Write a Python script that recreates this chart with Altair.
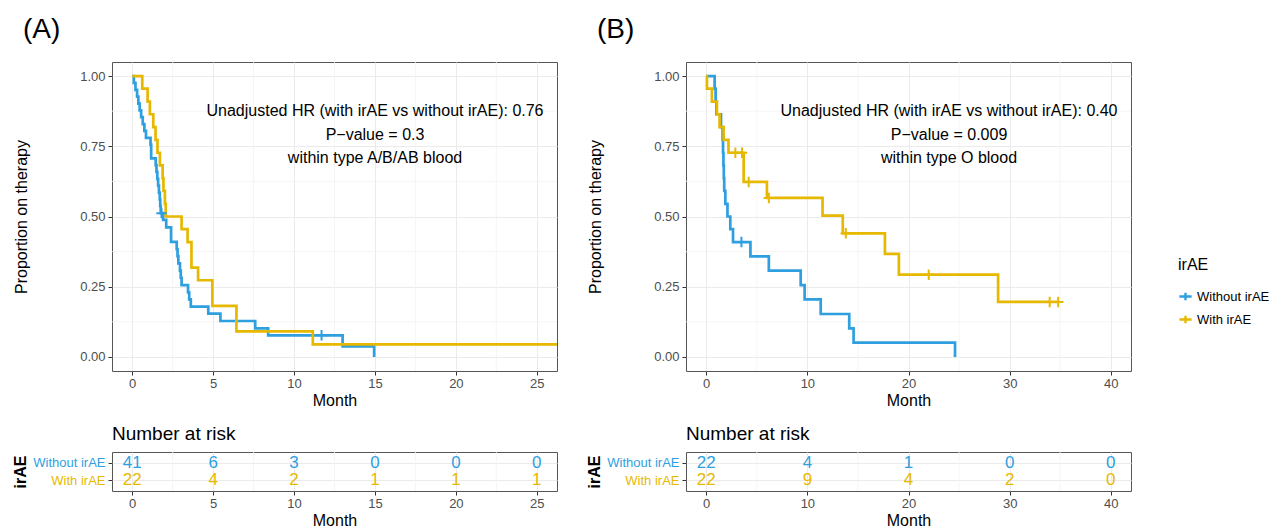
import altair as alt
import pandas as pd

GROUPS = ["Without irAE", "With irAE"]
COLORS = ["#2E9FDF", "#E7B800"]

# ---------------- Panel A (type A/B/AB blood) ----------------
a_wo_time = [0, 0.10, 0.20, 0.30, 0.38, 0.46, 0.55, 0.65, 0.75, 0.85, 1.13, 1.17,
             1.45, 1.50, 1.55, 1.60, 1.65, 1.70, 1.73, 1.76, 1.91, 2.10, 2.40,
             2.75, 2.80, 2.85, 2.95, 3.00, 3.05, 3.45, 3.52, 3.62, 4.70, 5.45,
             7.60, 8.40, 13.00, 14.95]
a_wo_surv = [1.000, 0.976, 0.951, 0.927, 0.902, 0.878, 0.854, 0.829, 0.805, 0.780,
             0.756, 0.707, 0.683, 0.659, 0.634, 0.610, 0.585, 0.561, 0.537, 0.512,
             0.488, 0.461, 0.410, 0.384, 0.359, 0.333, 0.307, 0.282, 0.256, 0.230,
             0.205, 0.179, 0.154, 0.128, 0.102, 0.077, 0.038, 0.000]
a_wo_cens_time = [1.81, 11.7]
a_wo_cens_surv = [0.512, 0.077]

a_w_time = [0, 0.62, 0.95, 1.09, 1.30, 1.44, 1.56, 1.71, 1.88, 1.93, 2.02, 2.07,
            3.05, 3.42, 3.66, 4.07, 4.95, 6.44, 11.16, 27.0]
a_w_surv = [1.000, 0.955, 0.909, 0.864, 0.818, 0.773, 0.727, 0.682, 0.636, 0.591,
            0.545, 0.500, 0.455, 0.409, 0.318, 0.273, 0.182, 0.091, 0.045, 0.045]
a_w_cens_time = []
a_w_cens_surv = []

a_notes = ["Unadjusted HR (with irAE vs without irAE): 0.76",
           "P\u2212value = 0.3",
           "within type A/B/AB blood"]

a_risk_time = [0, 5, 10, 15, 20, 25]
a_risk_wo = [41, 6, 3, 0, 0, 0]
a_risk_w = [22, 4, 2, 1, 1, 1]

# ---------------- Panel B (type O blood) ----------------
b_wo_time = [0, 0.83, 0.93, 1.00, 1.46, 1.62, 1.66, 1.70, 1.74, 1.78, 1.89, 2.10,
             2.38, 2.65, 4.37, 6.19, 9.34, 9.73, 11.32, 14.14, 14.57, 24.6]
b_wo_surv = [1.000, 0.955, 0.909, 0.864, 0.818, 0.773, 0.727, 0.682, 0.636, 0.591,
             0.545, 0.500, 0.455, 0.409, 0.358, 0.307, 0.256, 0.205, 0.153, 0.102,
             0.051, 0.000]
b_wo_cens_time = [3.48]
b_wo_cens_surv = [0.409]

b_w_time = [0, 0.07, 0.56, 1.06, 1.32, 1.72, 2.20, 3.70, 6.00, 11.50, 13.50,
            17.67, 19.05, 28.86, 34.80]
b_w_surv = [1.000, 0.955, 0.909, 0.864, 0.818, 0.773, 0.727, 0.623, 0.566, 0.503,
            0.440, 0.367, 0.293, 0.196, 0.196]
b_w_cens_time = [2.88, 3.54, 4.20, 6.19, 13.80, 22.00, 33.96, 34.80]
b_w_cens_surv = [0.727, 0.727, 0.623, 0.566, 0.440, 0.293, 0.196, 0.196]

b_notes = ["Unadjusted HR (with irAE vs without irAE): 0.40",
           "P\u2212value = 0.009",
           "within type O blood"]

b_risk_time = [0, 10, 20, 30, 40]
b_risk_wo = [22, 4, 1, 0, 0]
b_risk_w = [22, 9, 4, 2, 0]

# ---------------- helpers ----------------
Y_TICKS = [0, 0.25, 0.5, 0.75, 1.0]
Y_MINOR = [0.125, 0.375, 0.625, 0.875]
CROSS = "M-1,0L1,0M0,-1L0,1"
LEG_CROSS = "M-1,0L1,0M0,-0.6L0,0.6"
W, H_KM, H_TAB = 445, 309, 39
cscale = alt.Scale(domain=GROUPS, range=COLORS)

LEGEND = alt.Legend(
    title="irAE", orient="none", legendX=1066, legendY=195,
    symbolType=LEG_CROSS, symbolSize=150, symbolStrokeWidth=2.4,
    labelFontSize=13, titleFontSize=16, titleFontWeight="normal",
    rowPadding=6, titlePadding=16, labelColor="black", titleColor="black",
)


def color_enc():
    return alt.Color("irAE:N", scale=cscale, sort=GROUPS, legend=LEGEND)


def frame(t1, s1, t2, s2):
    return pd.DataFrame({
        "Month": list(t1) + list(t2),
        "surv": list(s1) + list(s2),
        "irAE": [GROUPS[0]] * len(t1) + [GROUPS[1]] * len(t2),
    })


def km_panel(curves, censors, xdom, xticks, xminor, notes, label):
    xs = alt.Scale(domain=xdom, nice=False, zero=False)
    ys = alt.Scale(domain=[-0.05, 1.05], nice=False, zero=False)
    xax = alt.Axis(values=xticks, grid=True, title="Month", labelPadding=2, titlePadding=2)
    yax = alt.Axis(values=Y_TICKS, format=".2f", grid=True,
                   title="Proportion on therapy", labelPadding=3, titlePadding=50)
    lines = alt.Chart(curves).mark_line(
        interpolate="step-after", strokeWidth=2.7, clip=True
    ).encode(
        x=alt.X("Month:Q", scale=xs, axis=xax),
        y=alt.Y("surv:Q", scale=ys, axis=yax),
        color=color_enc(),
    )
    vmin = alt.Chart(pd.DataFrame({"Month": xminor})).mark_rule(
        color="#F2F2F2", strokeWidth=0.8
    ).encode(x=alt.X("Month:Q", scale=xs, axis=xax))
    hmin = alt.Chart(pd.DataFrame({"surv": Y_MINOR})).mark_rule(
        color="#F2F2F2", strokeWidth=0.8
    ).encode(y=alt.Y("surv:Q", scale=ys, axis=yax))
    cens = alt.Chart(censors).mark_point(
        shape=CROSS, size=110, filled=False, strokeWidth=2, opacity=1, clip=True
    ).encode(
        x=alt.X("Month:Q", scale=xs, axis=xax),
        y=alt.Y("surv:Q", scale=ys, axis=yax),
        color=color_enc(),
    )
    layers = [vmin, hmin, lines, cens]
    for i, note in enumerate(notes):
        layers.append(
            alt.Chart(pd.DataFrame({"note": [note]})).mark_text(
                fontSize=16, align="center", baseline="middle", color="black"
            ).encode(x=alt.value(263), y=alt.value(49 + 23.5 * i), text="note:N")
        )
    return alt.layer(*layers).properties(
        width=W, height=H_KM,
        title=alt.TitleParams(label, anchor="start", frame="group", fontSize=28,
                              fontWeight="normal", color="black", dx=-89, offset=18),
    )


def risk_panel(times, n_wo, n_w, xdom, xticks, xminor):
    xs = alt.Scale(domain=xdom, nice=False, zero=False)
    xax = alt.Axis(values=xticks, grid=True, title="Month", labelPadding=2, titlePadding=2)
    df = pd.DataFrame({
        "Month": list(times) * 2,
        "n": list(n_wo) + list(n_w),
        "irAE": [GROUPS[0]] * len(times) + [GROUPS[1]] * len(times),
    })
    vmin = alt.Chart(pd.DataFrame({"Month": xminor})).mark_rule(
        color="#F2F2F2", strokeWidth=0.8
    ).encode(x=alt.X("Month:Q", scale=xs, axis=xax))
    txt = alt.Chart(df).mark_text(fontSize=17, baseline="middle", align="center").encode(
        x=alt.X("Month:Q", scale=xs, axis=xax),
        y=alt.Y("irAE:N", sort=GROUPS,
                scale=alt.Scale(type="point", padding=0.6, domain=GROUPS),
                axis=alt.Axis(grid=True, title="irAE", titleFontWeight="bold",
                              labelPadding=3, titlePadding=4,
                              labelColor={"condition": {"test": "datum.value === 'Without irAE'",
                                                        "value": COLORS[0]},
                                          "value": COLORS[1]})),
        text="n:Q",
        color=color_enc(),
    )
    return alt.layer(vmin, txt).properties(
        width=W, height=H_TAB,
        title=alt.TitleParams("Number at risk", anchor="start", frame="group", fontSize=19,
                              fontWeight="normal", color="black", offset=8),
    )


kmA = km_panel(frame(a_wo_time, a_wo_surv, a_w_time, a_w_surv),
               frame(a_wo_cens_time, a_wo_cens_surv, a_w_cens_time, a_w_cens_surv),
               [-1.25, 26.25], [0, 5, 10, 15, 20, 25],
               [2.5, 7.5, 12.5, 17.5, 22.5], a_notes, "(A)")
kmB = km_panel(frame(b_wo_time, b_wo_surv, b_w_time, b_w_surv),
               frame(b_wo_cens_time, b_wo_cens_surv, b_w_cens_time, b_w_cens_surv),
               [-2, 42], [0, 10, 20, 30, 40], [5, 15, 25, 35], b_notes, "(B)")
tabA = risk_panel(a_risk_time, a_risk_wo, a_risk_w, [-1.25, 26.25],
                  [0, 5, 10, 15, 20, 25], [2.5, 7.5, 12.5, 17.5, 22.5])
tabB = risk_panel(b_risk_time, b_risk_wo, b_risk_w, [-2, 42],
                  [0, 10, 20, 30, 40], [5, 15, 25, 35])

chart = alt.concat(
    kmA, kmB, tabA, tabB, columns=2,
    spacing={"row": 81, "column": 129}, bounds="flush",
).properties(
    padding={"left": 4, "top": 7, "right": 0, "bottom": 0},
).configure(
    font="Liberation Sans",
).configure_view(
    stroke="#555555", strokeWidth=1,
).configure_axis(
    domain=False, tickColor="#333333", tickSize=4, labelColor="#4D4D4D",
    labelFontSize=13, titleFontSize=16, titleFontWeight="normal", titleColor="black",
    gridColor="#EBEBEB", gridWidth=1,
)

chart.save("out.html", embed_options={"renderer": "svg", "actions": False})
